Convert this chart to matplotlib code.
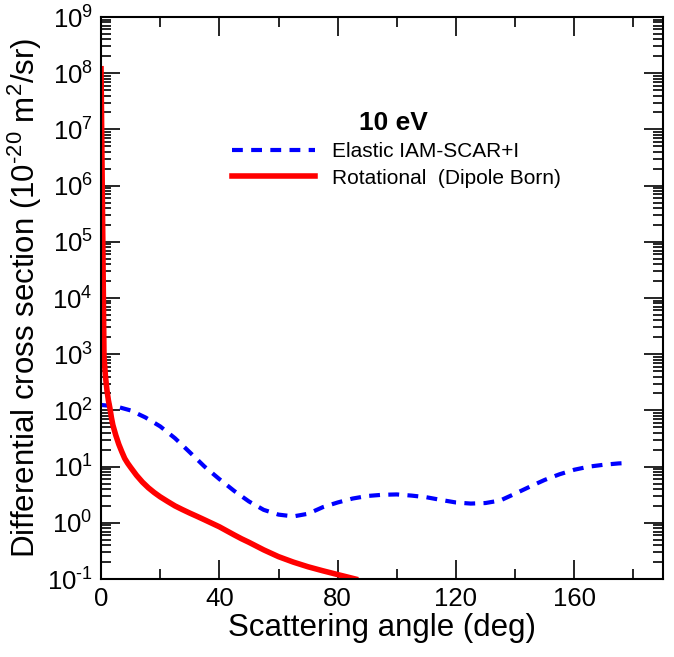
import matplotlib
matplotlib.use("Agg")
import matplotlib.pyplot as plt
from matplotlib.ticker import LogLocator, MultipleLocator, NullFormatter

plt.rcParams['font.family'] = ['Liberation Sans', 'DejaVu Sans']
plt.rcParams['mathtext.fontset'] = 'custom'
plt.rcParams['mathtext.rm'] = 'Liberation Sans'
plt.rcParams['mathtext.it'] = 'Liberation Sans:italic'
plt.rcParams['mathtext.bf'] = 'Liberation Sans:bold'

# Elastic IAM-SCAR+I
elastic_angle = [0, 5, 10, 15, 20, 25, 30, 35, 40, 45, 50, 55, 60, 65, 70, 75,
                 80, 85, 90, 95, 100, 105, 110, 115, 120, 125, 130, 135, 140,
                 145, 150, 155, 160, 165, 170, 175, 178]
elastic_dcs = [125, 118, 100, 75, 52, 32, 18, 10, 6.0, 3.7, 2.4, 1.7, 1.4, 1.3,
               1.45, 1.9, 2.3, 2.7, 3.0, 3.15, 3.2, 3.05, 2.85, 2.55, 2.3, 2.2,
               2.25, 2.5, 3.3, 4.4, 5.8, 7.3, 8.8, 10.0, 10.8, 11.4, 11.6]

# Rotational (Dipole Born)
rot_angle = [0, 1, 1.5, 2, 2.5, 3, 3.5, 4, 5, 6, 7, 8, 9, 10, 12, 14, 16, 18,
             20, 22.5, 25, 27.5, 30, 32.5, 35, 37.5, 40, 42.5, 45, 47.5, 50,
             55, 60, 65, 70, 75, 80, 86]
rot_dcs = [1.2e8, 900, 400, 230, 150, 110, 75, 55, 36, 25, 18.5, 14, 11.5, 9.7,
           7.0, 5.3, 4.2, 3.45, 2.9, 2.4, 2.0, 1.72, 1.49, 1.3, 1.13, 0.98,
           0.85, 0.72, 0.61, 0.52, 0.45, 0.33, 0.25, 0.2, 0.165, 0.14, 0.12, 0.1]

y_ticks = [10.0 ** p for p in range(-1, 10)]
y_tick_labels = ['10$^{\\text{%d}}$' % p if p < 0 else '10$^{%d}$' % p
                 for p in range(-1, 10)]

fig = plt.figure(figsize=(6.74, 6.57), dpi=100)
ax = fig.add_axes([0.1499, 0.1187, 0.8338, 0.8554])

ax.plot(elastic_angle, elastic_dcs, color='#0000ff', lw=3.0,
        dashes=(2.6, 2.0), label='Elastic IAM-SCAR+I')
ax.plot(rot_angle, rot_dcs, color='#ff0000', lw=4.0,
        label='Rotational  (Dipole Born)')

ax.set_yscale('log')
ax.set_xlim(0, 190)
ax.set_ylim(1e-1, 1e9)

ax.xaxis.set_major_locator(MultipleLocator(40))
ax.xaxis.set_minor_locator(MultipleLocator(20))
ax.set_yticks(y_ticks)
ax.set_yticklabels(y_tick_labels)
ax.yaxis.set_minor_locator(LogLocator(base=10, subs=range(2, 10), numticks=20))
ax.yaxis.set_minor_formatter(NullFormatter())

ax.tick_params(which='both', direction='in', top=True, right=True, width=1.2)
ax.tick_params(which='major', length=14, labelsize=18.5, pad=6)
ax.tick_params(which='minor', length=7)
for s in ax.spines.values():
    s.set_linewidth(1.5)

ax.set_xlabel('Scattering angle (deg)', fontsize=22.5, labelpad=1)
ax.set_ylabel('Differential cross section (10$^{\\text{-20}}$ m$^2$/sr)',
              fontsize=22.5, labelpad=2)

ax.text(0.52, 0.812, '10 eV', transform=ax.transAxes, ha='center',
        va='center', fontsize=19, fontweight='bold')
ax.legend(loc='upper left', bbox_to_anchor=(0.233, 0.777), frameon=False,
          fontsize=15, handlelength=4.0, handletextpad=0.8,
          labelspacing=0.35, borderpad=0, borderaxespad=0)

fig.savefig('out.png', dpi=100)
